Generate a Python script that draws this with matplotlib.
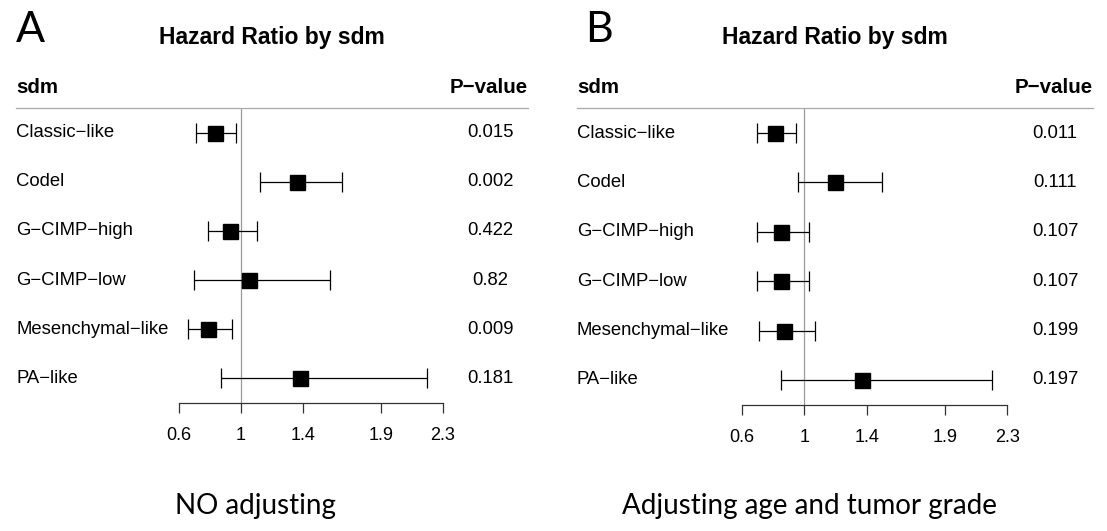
import matplotlib
matplotlib.use("Agg")
import matplotlib.pyplot as plt
from matplotlib.transforms import blended_transform_factory

# ---------------- data ----------------
categories = ["Classic\u2212like", "Codel", "G\u2212CIMP\u2212high", "G\u2212CIMP\u2212low",
              "Mesenchymal\u2212like", "PA\u2212like"]

hr_a = [0.83, 1.36, 0.93, 1.05, 0.79, 1.38]
lo_a = [0.71, 1.12, 0.79, 0.70, 0.66, 0.87]
hi_a = [0.97, 1.65, 1.10, 1.57, 0.94, 2.20]
p_a = ["0.015", "0.002", "0.422", "0.82", "0.009", "0.181"]

hr_b = [0.81, 1.20, 0.85, 0.85, 0.87, 1.37]
lo_b = [0.70, 0.96, 0.70, 0.70, 0.71, 0.85]
hi_b = [0.95, 1.50, 1.03, 1.03, 1.07, 2.20]
p_b = ["0.011", "0.111", "0.107", "0.107", "0.199", "0.197"]

tick_values = [0.6, 1, 1.4, 1.9, 2.3]
tick_labels = ["0.6", "1", "1.4", "1.9", "2.3"]

panel_letters = ["A", "B"]
titles = ["Hazard Ratio by sdm", "Hazard Ratio by sdm"]
captions = ["NO adjusting", "Adjusting age and tumor grade"]
col_header = "sdm"
p_header = "P\u2212value"

# ---------------- layout ----------------
W, H = 1107, 531
fig = plt.figure(figsize=(W / 100, H / 100), dpi=100)
fig.patch.set_facecolor("white")

FONT = "Liberation Sans"
CAPFONT = "Lato"


def fx(px):
    return px / W


def fy(py):
    return 1 - py / H


panels = [
    dict(x0=16, x1=528, ytop=108, ybot=403, xlim=(-0.4488, 2.848), pcol=490,
         hr=hr_a, lo=lo_a, hi=hi_a, p=p_a, title_x=272, letter_x=16, cap_x=255),
    dict(x0=577, x1=1093, ytop=108, ybot=405, xlim=(-0.4546, 2.849), pcol=1055,
         hr=hr_b, lo=lo_b, hi=hi_b, p=p_b, title_x=835, letter_x=585, cap_x=810),
]

row_pos = list(range(len(categories)))

for k, P in enumerate(panels):
    ax = fig.add_axes([fx(P["x0"]), fy(P["ybot"]), fx(P["x1"] - P["x0"]),
                       (P["ybot"] - P["ytop"]) / H])
    ax.set_facecolor("none")
    ax.set_xlim(*P["xlim"])
    ax.set_ylim(5.51, -0.51)

    # reference line at HR = 1
    ax.axvline(1, color="#9a9a9a", lw=0.9, zorder=1)

    xerr = [[h - l for h, l in zip(P["hr"], P["lo"])],
            [u - h for h, u in zip(P["hr"], P["hi"])]]
    ax.errorbar(P["hr"], row_pos, xerr=xerr, fmt="s", color="black",
                ecolor="black", elinewidth=0.9, capsize=7.5, capthick=0.9,
                markersize=10.8, zorder=3)

    # spines
    for s in ["left", "right"]:
        ax.spines[s].set_visible(False)
    ax.spines["top"].set_color("#a8a8a8")
    ax.spines["top"].set_linewidth(0.9)
    ax.spines["bottom"].set_color("#333333")
    ax.spines["bottom"].set_linewidth(0.9)
    ax.spines["bottom"].set_bounds(tick_values[0], tick_values[-1])

    ax.set_yticks([])
    ax.set_xticks(tick_values)
    ax.set_xticklabels(tick_labels, fontfamily=FONT, fontsize=13)
    ax.tick_params(axis="x", direction="out", length=7.5, width=0.9,
                   color="#333333", pad=10, labelcolor="black")

    trans = blended_transform_factory(ax.transAxes, ax.transData)
    for i, (lab, pv) in enumerate(zip(categories, P["p"])):
        ax.text(0.0, i, lab, transform=trans, ha="left", va="center",
                fontfamily=FONT, fontsize=13.3, color="black")
        ax.text((P["pcol"] - P["x0"]) / (P["x1"] - P["x0"]), i, pv,
                transform=trans, ha="center", va="center",
                fontfamily=FONT, fontsize=13.3, color="black")

    # headers
    fig.text(fx(P["x0"]), fy(93), col_header, ha="left", va="baseline",
             fontfamily=FONT, fontweight="bold", fontsize=14.8)
    fig.text(fx(P["x1"]), fy(93), p_header, ha="right", va="baseline",
             fontfamily=FONT, fontweight="bold", fontsize=14.8)
    fig.text(fx(P["title_x"]), fy(44), titles[k], ha="center", va="baseline",
             fontfamily=FONT, fontweight="bold", fontsize=16.5)
    fig.text(fx(P["letter_x"]), fy(42), panel_letters[k], ha="left",
             va="baseline", fontfamily=CAPFONT, fontsize=31)
    fig.text(fx(P["cap_x"]), fy(514), captions[k], ha="center", va="baseline",
             fontfamily=CAPFONT, fontsize=20)

fig.savefig("out.png", dpi=100, facecolor="white")
